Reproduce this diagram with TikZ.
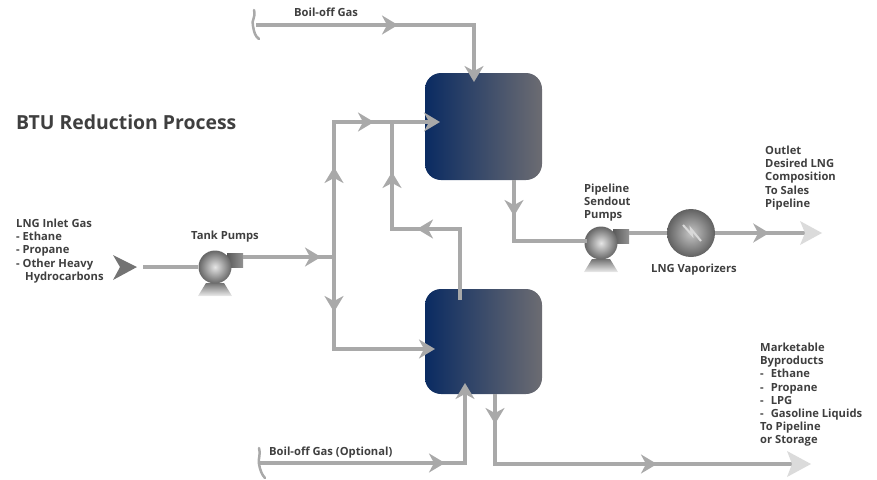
\documentclass[tikz,border=0pt]{standalone}
\usepackage{fontspec}
\setmainfont{Open Sans}
\usepackage{xcolor}
\usetikzlibrary{arrows.meta,decorations.markings}
\definecolor{pipegray}{HTML}{A9A9A9}
\definecolor{textgray}{HTML}{3F3F3F}
\definecolor{navy}{HTML}{0A2B62}
\definecolor{slate}{HTML}{6C6C72}
\tikzset{pipe/.style={draw=pipegray,line width=3.3pt},
    bigtip/.style={-{Stealth[length=16pt,width=19pt,inset=5pt]}},
    tipat/.style={postaction={decorate,decoration={markings,
        mark=at position #1 with {\arrow{Stealth[length=16pt,width=19pt,inset=5pt,color=pipegray]}}}}},
    vessel/.style={rounded corners=16pt,minimum width=117pt,minimum height=107pt,inner sep=0pt,
        left color=navy,right color=slate},
    pumpbody/.style={circle,minimum size=33pt,inner sep=0pt,shading=radial,
        inner color=gray!20,outer color=gray!80!black},
    vaporizer/.style={circle,minimum size=48pt,inner sep=0pt,shading=radial,
        inner color=gray!45,outer color=black!62},
    label/.style={align=left,anchor=north west,text=textgray,inner sep=0pt,
        font=\fontsize{11.2}{13.1}\selectfont\bfseries},
    pump/.pic={
        \shade[top color=gray!90!black,bottom color=gray!15]
            (-9,16) -- (9,16) -- (17,29) -- (-17,29) -- cycle;
        \shade[left color=black!65,right color=gray!85] (12,-14) rectangle (28,0);
        \node[pumpbody] (-body) at (0,0) {};
        \coordinate (-out) at (28,-10);
    }}
\begin{document}
\begin{tikzpicture}[x=1pt,y=-1pt]
\useasboundingbox (0,0) rectangle (877,479);

\node[vessel] (contactor) at (483.5,126.5) {};
\node[vessel,minimum height=105pt] (stripper) at (483.5,341.5) {};
\pic (tankpump) at (215,267) {pump};
\pic (sendout) at (601,243) {pump};
\node[vaporizer] (vap) at (691,233) {};
\draw[gray!30,line width=2pt] (683,225) -- (692,235) -- (691,229) -- (701,241);

\coordinate (boil) at (256,25);
\coordinate (boilturn) at (474,25);
\coordinate (contactortop) at (474,82);
\coordinate (inlet) at (143,267);
\coordinate (split) at (334,257);
\coordinate (upper) at (334,122);
\coordinate (lower) at (334,349);
\coordinate (contactorin) at (440,122);
\coordinate (stripperin) at (435,349);
\coordinate (recycle) at (392,122);
\coordinate (recycleturn) at (392,229);
\coordinate (stripperturn) at (460,229);
\coordinate (stripperout) at (460,300);
\coordinate (contactorout) at (514,180);
\coordinate (sendin) at (587,241);
\coordinate (optboil) at (259,463);
\coordinate (optturn) at (465,463);
\coordinate (stripperfeed) at (465,383);
\coordinate (bottomout) at (495,394);
\coordinate (bottomturn) at (495,464);
\coordinate (byproduct) at (792,464);
\coordinate (sales) at (805,233);

\draw[pipe,tipat=142pt,bigtip] (boil) -- (boilturn) -- (contactortop);
\draw[pipe] (inlet) -- (tankpump-body);
\draw[pipe,tipat=78pt] (tankpump-out) -- (split);
\draw[pipe,tipat=90pt,tipat=175pt,bigtip] (split) -- (upper) -- (contactorin);
\draw[pipe,tipat=55pt,bigtip] (split) -- (lower) -- (stripperin);
\draw[pipe,tipat=114pt,tipat=196pt] (stripperout) -- (stripperturn) -- (recycleturn) -- (recycle);
\draw[pipe,tipat=36pt] (contactorout) |- (sendin);
\draw[pipe] (sendout-out) -- (vap);
\draw[pipe,tipat=186pt,bigtip] (optboil) -- (optturn) -- (stripperfeed);
\draw[pipe,tipat=30pt,tipat=232pt] (bottomout) -- (bottomturn) -- (byproduct);
\draw[pipe,tipat=54pt] (vap) -- (sales);

\fill[gray!28] (822,233) -- (800,221) -- (805,233) -- (800,245) -- cycle;
\fill[gray!28] (811,464) -- (787,451) -- (792,464) -- (787,477) -- cycle;
\fill[black!55] (137,267) -- (113,255) -- (120,267) -- (113,280) -- cycle;

\draw[pipe,line width=2.5pt,line cap=round] (254,10) .. controls (256,18) and (251,20) .. (253,26) .. controls (254,32) and (255,36) .. (259,39);
\draw[pipe,line width=2.5pt,line cap=round] (259,448) .. controls (261,454) and (258,458) .. (259,464) .. controls (260,470) and (262,475) .. (265,478);

\node[label,font=\fontsize{19.4}{22}\selectfont\bfseries] (title) at (16,115) {BTU Reduction Process};
\node[label] (boillabel) at (294,8) {Boil-off Gas};
\node[label] (optlabel) at (269,447) {Boil-off Gas (Optional)};
\node[label] (inletlabel) at (16,219) {LNG Inlet Gas\\- Ethane\\- Propane\\- Other Heavy\\\hspace*{9pt}Hydrocarbons};
\node[label] (tanklabel) at (191,231) {Tank Pumps};
\node[label] (sendlabel) at (584,184) {Pipeline\\Sendout\\Pumps};
\node[label] (vaplabel) at (651,264) {LNG Vaporizers};
\node[label] (outlabel) at (765,146) {Outlet\\Desired LNG\\Composition\\To Sales\\Pipeline};
\node[label] (bylabel) at (760,343) {Marketable\\Byproducts\\-\hspace{7pt}Ethane\\-\hspace{7pt}Propane\\-\hspace{7pt}LPG\\-\hspace{7pt}Gasoline Liquids\\To Pipeline\\or Storage};
\end{tikzpicture}
\end{document}
